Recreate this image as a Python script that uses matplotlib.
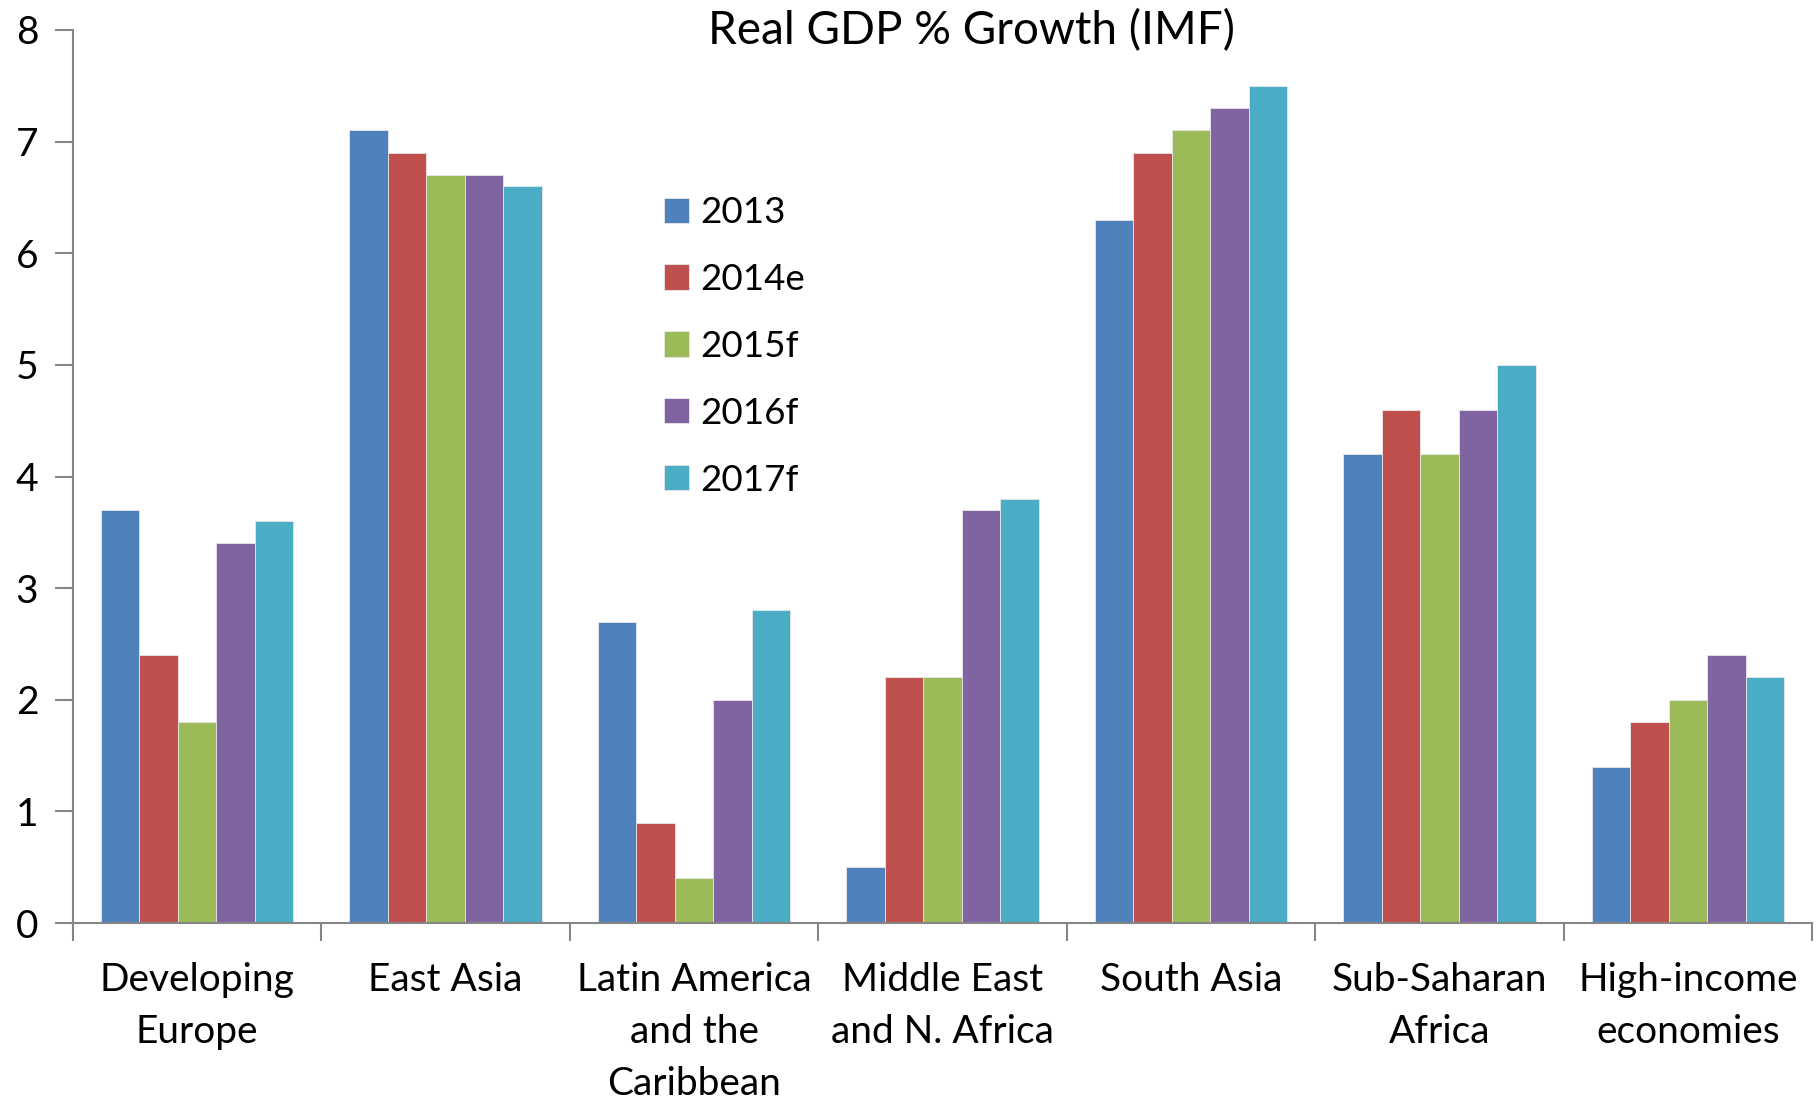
import numpy as np
import matplotlib
matplotlib.use("Agg")
import matplotlib.pyplot as plt

plt.rcParams['font.family'] = ['Lato', 'DejaVu Sans']

regions = ["Developing\nEurope", "East Asia", "Latin America\nand the\nCaribbean",
           "Middle East\nand N. Africa", "South Asia", "Sub-Saharan\nAfrica",
           "High-income\neconomies"]
years = ["2013", "2014e", "2015f", "2016f", "2017f"]

growth_2013 = [3.7, 7.1, 2.7, 0.5, 6.3, 4.2, 1.4]
growth_2014 = [2.4, 6.9, 0.9, 2.2, 6.9, 4.6, 1.8]
growth_2015 = [1.8, 6.7, 0.4, 2.2, 7.1, 4.2, 2.0]
growth_2016 = [3.4, 6.7, 2.0, 3.7, 7.3, 4.6, 2.4]
growth_2017 = [3.6, 6.6, 2.8, 3.8, 7.5, 5.0, 2.2]
series = [growth_2013, growth_2014, growth_2015, growth_2016, growth_2017]

colors = ['#4F81BD', '#C0504D', '#9BBB59', '#8064A2', '#4BACC6']

fig = plt.figure(figsize=(18.19, 11), dpi=100)
ax = fig.add_axes([73 / 1819, 177 / 1100, (1812 - 73) / 1819, (923 - 30) / 1100])

x = np.arange(len(regions))
bar_w = 0.155
for i, (vals, col, lab) in enumerate(zip(series, colors, years)):
    ax.bar(x + (i - 2) * bar_w, vals, width=bar_w, color=col, label=lab,
           edgecolor='#e8e8e8', linewidth=0.6)

ax.set_xlim(-0.5, len(regions) - 0.5)
ax.set_ylim(0, 8)

gray = '#868686'
for side in ['top', 'right']:
    ax.spines[side].set_visible(False)
for side in ['left', 'bottom']:
    ax.spines[side].set_color(gray)
    ax.spines[side].set_linewidth(1.5)

ax.set_yticks(range(0, 9))
ax.tick_params(axis='y', direction='out', length=13, width=1.5, color=gray,
               labelsize=28, pad=12)

# category labels at centers, tick marks at boundaries
ax.set_xticks(x)
ax.set_xticklabels(regions, fontsize=28, linespacing=1.55)
ax.tick_params(axis='x', which='major', length=0, pad=28)
ax.set_xticks(np.arange(-0.5, len(regions)), minor=True)
ax.tick_params(axis='x', which='minor', direction='out', length=13, width=1.5, color=gray)

fig.text(971 / 1819, 1 - 31 / 1100, "Real GDP % Growth (IMF)", fontsize=33,
         ha='center', va='center')

ax.legend(loc='upper left', bbox_to_anchor=(631 / 1819, 1 - 163 / 1100),
          bbox_transform=fig.transFigure, frameon=False,
          fontsize=26.5, handlelength=0.68, handleheight=0.68, handletextpad=0.3,
          labelspacing=0.92)

fig.savefig("out.png", dpi=100)
